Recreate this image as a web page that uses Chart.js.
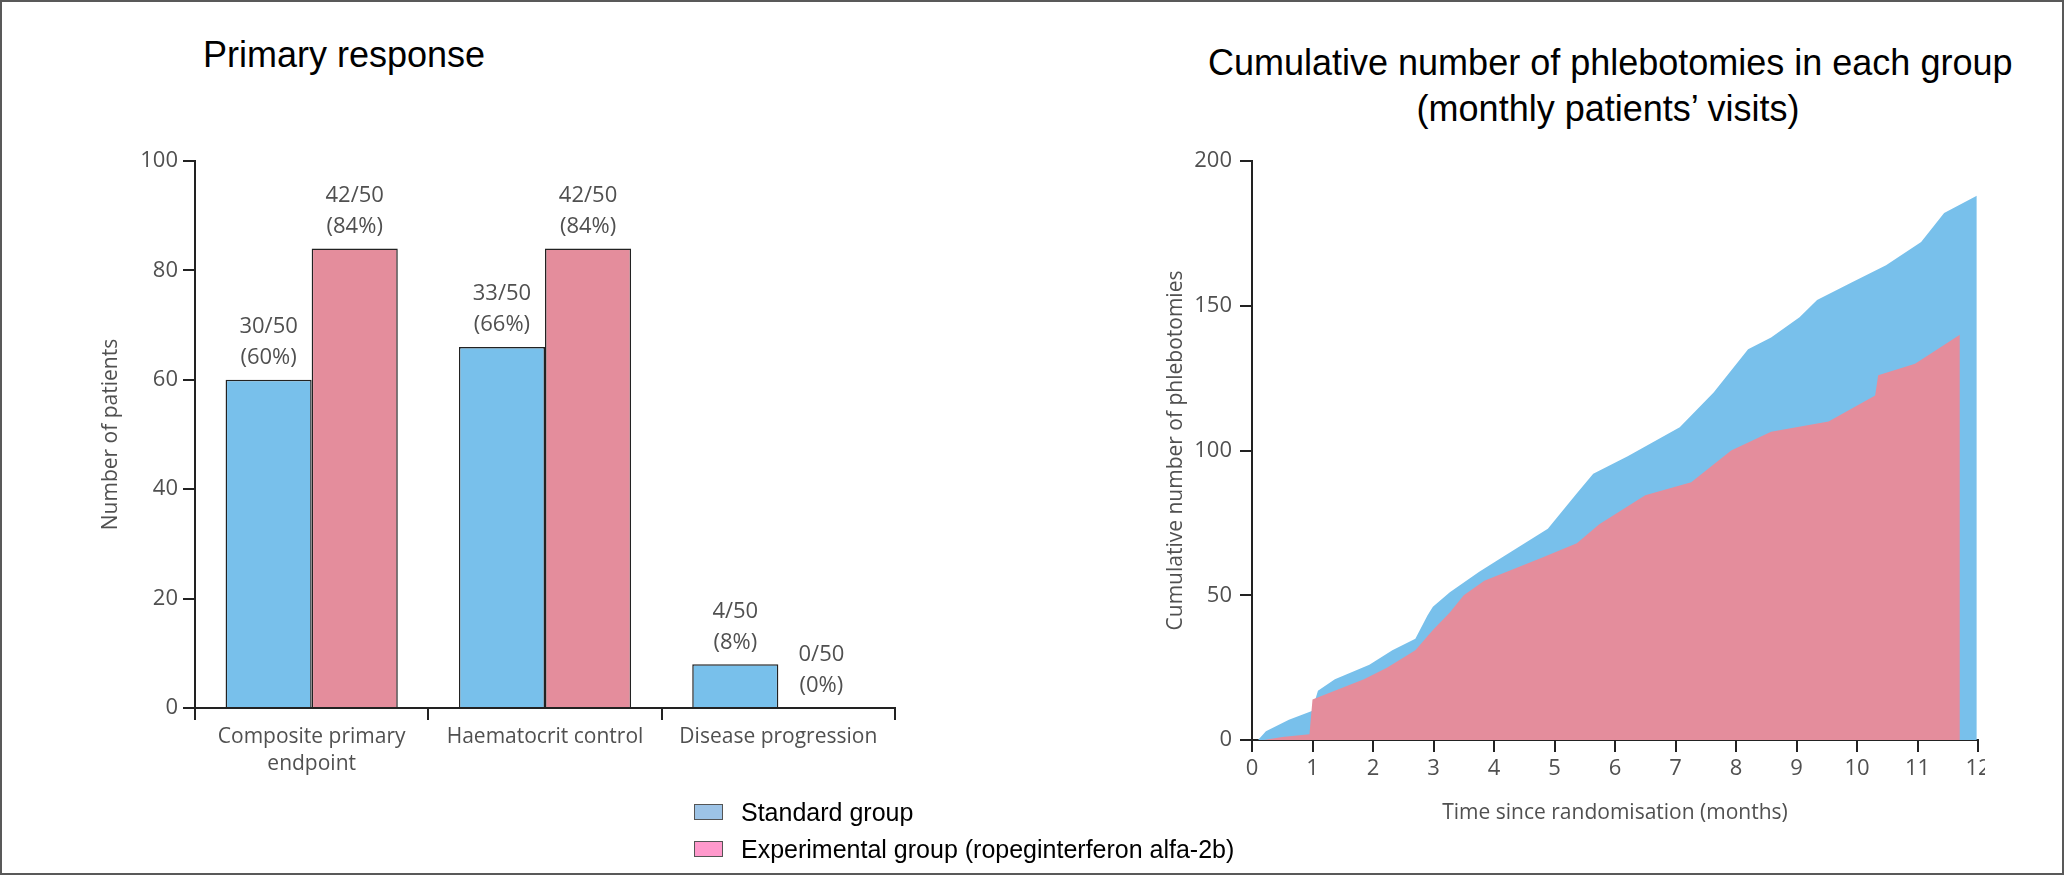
<!DOCTYPE html>
<html>
<head>
<meta charset="utf-8">
<script src="https://cdn.jsdelivr.net/npm/chart.js@4.4.0/dist/chart.umd.min.js"></script>
<style>
  html, body { margin: 0; padding: 0; background: #fff; }
  #page { position: relative; width: 2064px; height: 875px; overflow: hidden; font-family: "Liberation Sans", Arial, sans-serif; }
  #frame { position: absolute; left: 0; top: 0; width: 2064px; height: 875px; box-sizing: border-box; border: 2px solid #595959; pointer-events: none; }
  .title { position: absolute; font-size: 36px; color: #000; white-space: nowrap; }
  #title1 { left: 203px; top: 37px; line-height: 36px; }
  #title2 { left: 1208px; width: 800px; top: 40px; line-height: 46px; text-align: center; }
  #leftBox { position: absolute; left: 60px; top: 130px; }
  #rightBox { position: absolute; left: 1130px; top: 130px; width: 855px; height: 710px; overflow: hidden; }
  .legend-row { position: absolute; left: 694px; height: 30px; display: flex; align-items: center; font-size: 25px; color: #000; white-space: nowrap; }
  .legend-row .sw { width: 27px; height: 14px; border: 1px solid #555; margin-right: 18px; }
</style>
</head>
<body>
<div id="page">
  <div class="title" id="title1">Primary response</div>
  <div class="title" id="title2">Cumulative number of phlebotomies in each group<br>(monthly patients’ visits)</div>
  <div id="leftBox"><canvas id="barChart" width="860" height="680"></canvas></div>
  <div id="rightBox"><canvas id="areaChart" width="870" height="710"></canvas></div>
  <div id="legend"></div>
  <div id="frame"></div>
</div>
<script>
// primary response (percent of 50 patients per group)
const categories = [['Composite primary', 'endpoint'], 'Haematocrit control', 'Disease progression'];
const standardPct = [60, 66, 8];
const experimentalPct = [84, 84, 0];
const standardN = [30, 33, 4];
const experimentalN = [42, 42, 0];
const groupSize = 50;

// cumulative phlebotomies
const standardMonths = [0.1, 0.23, 0.61, 0.99, 1.09, 1.37, 1.94, 2.32, 2.7, 2.9, 2.99, 3.27, 3.75, 4.13, 4.89, 5.36, 5.64, 6.21, 7.07, 7.63, 8.2, 8.58, 9.05, 9.34, 9.91, 10.48, 11.06, 11.44, 11.98, 11.98];
const standardCounts = [0, 3, 7, 10, 17, 21, 26, 31, 35, 43, 46, 51, 58, 63, 73, 85, 92, 98, 108, 120, 135, 139, 146, 152, 158, 164, 172, 182, 188, 0];
const experimentalMonths = [0.2, 0.5, 0.95, 1.0, 1.85, 2.23, 2.7, 2.99, 3.27, 3.5, 3.84, 4.8, 5.37, 5.74, 6.5, 7.26, 7.92, 8.58, 9.53, 10.3, 10.35, 10.96, 11.7, 11.7];
const experimentalCounts = [0, 1, 2, 14, 21, 25, 31, 38, 44, 50, 55, 63, 68, 74.5, 84.5, 89, 100, 106.5, 110, 119, 126, 130, 140, 0];

const seriesNames = ['Standard group', 'Experimental group (ropeginterferon alfa-2b)'];
const blue = '#78C0EB';
const pink = '#E48D9C';
const legendColors = ['#9DC3E6', '#FF99CC'];

const axisFont = { family: '"Open Sans", sans-serif', size: 22 };
const labelFont = { family: '"Open Sans", sans-serif', size: 21, lineHeight: 1.3 };
const textColor = '#505050';
const lineColor = '#222';

const barLabels = {
  id: 'barLabels',
  afterDatasetsDraw(chart) {
    const ctx = chart.ctx;
    ctx.save();
    ctx.font = '22px "Open Sans", sans-serif';
    ctx.fillStyle = textColor;
    ctx.textAlign = 'center';
    ctx.textBaseline = 'middle';
    const counts = [standardN, experimentalN];
    const pcts = [standardPct, experimentalPct];
    chart.data.datasets.forEach((ds, di) => {
      chart.getDatasetMeta(di).data.forEach((bar, i) => {
        ctx.fillText(counts[di][i] + '/' + groupSize, bar.x, bar.y - 53);
        ctx.fillText('(' + pcts[di][i] + '%)', bar.x, bar.y - 22);
      });
    });
    ctx.restore();
  }
};

new Chart(document.getElementById('barChart'), {
  type: 'bar',
  data: {
    labels: categories,
    datasets: [
      { label: seriesNames[0], data: standardPct, backgroundColor: blue, borderColor: lineColor, borderWidth: 1.5 },
      { label: seriesNames[1], data: experimentalPct, backgroundColor: pink, borderColor: lineColor, borderWidth: 1.5 }
    ]
  },
  options: {
    responsive: false,
    animation: false,
    categoryPercentage: 0.738,
    barPercentage: 1.0,
    layout: { padding: { top: 31, right: 25, left: 0, bottom: 0 } },
    plugins: { legend: { display: false }, tooltip: { enabled: false } },
    scales: {
      x: {
        z: 1,
        grid: { drawOnChartArea: false, tickLength: 12, color: lineColor, lineWidth: 2, offset: true },
        border: { display: true, color: lineColor, width: 2 },
        ticks: { color: textColor, font: labelFont, padding: 3, maxRotation: 0, autoSkip: false },
        afterFit(s) { s.height = 102; s.paddingLeft = 0; s.paddingRight = 0; }
      },
      y: {
        min: 0, max: 100,
        grid: { drawOnChartArea: false, tickLength: 12, color: lineColor, lineWidth: 2 },
        border: { display: true, color: lineColor, width: 2 },
        ticks: { stepSize: 20, color: textColor, font: axisFont, padding: 5 },
        title: { display: true, text: 'Number of patients', color: textColor, font: labelFont, padding: { top: 37 } },
        afterFit(s) { s.width = 135; s.paddingTop = 0; s.paddingBottom = 0; }
      }
    }
  },
  plugins: [barLabels]
});

function points(xs, ys) {
  return xs.map((x, i) => ({ x: x, y: ys[i] }));
}

new Chart(document.getElementById('areaChart'), {
  type: 'line',
  data: {
    datasets: [
      { label: seriesNames[1], data: points(experimentalMonths, experimentalCounts), backgroundColor: pink, borderWidth: 0, pointRadius: 0, fill: 'origin', tension: 0 },
      { label: seriesNames[0], data: points(standardMonths, standardCounts), backgroundColor: blue, borderWidth: 0, pointRadius: 0, fill: 'origin', tension: 0 }
    ]
  },
  options: {
    responsive: false,
    animation: false,
    layout: { padding: { top: 31, right: 22, left: 0, bottom: 0 } },
    plugins: { legend: { display: false }, tooltip: { enabled: false } },
    scales: {
      x: {
        type: 'linear', min: 0, max: 12, z: 1,
        grid: { drawOnChartArea: false, tickLength: 12, color: lineColor, lineWidth: 2 },
        border: { display: true, color: lineColor, width: 2 },
        ticks: { stepSize: 1, color: textColor, font: axisFont, padding: 4, maxRotation: 0, autoSkip: false },
        title: { display: true, text: 'Time since randomisation (months)', color: textColor, font: labelFont, padding: { bottom: 13 } },
        afterFit(s) { s.height = 100; s.paddingLeft = 0; s.paddingRight = 0; }
      },
      y: {
        min: 0, max: 200,
        grid: { drawOnChartArea: false, tickLength: 12, color: lineColor, lineWidth: 2 },
        border: { display: true, color: lineColor, width: 2 },
        ticks: { stepSize: 50, color: textColor, font: axisFont, padding: 8 },
        title: { display: true, text: 'Cumulative number of phlebotomies', color: textColor, font: labelFont, padding: { top: 32 } },
        afterFit(s) { s.width = 122; s.paddingTop = 0; s.paddingBottom = 0; }
      }
    }
  }
});

// legend shared by both panels
const legend = document.getElementById('legend');
const legendTops = [797, 834];
seriesNames.forEach((name, i) => {
  const row = document.createElement('div');
  row.className = 'legend-row';
  row.style.top = legendTops[i] + 'px';
  row.innerHTML = '<span class="sw" style="background:' + legendColors[i] + '"></span>' + name;
  legend.appendChild(row);
});
</script>
</body>
</html>
